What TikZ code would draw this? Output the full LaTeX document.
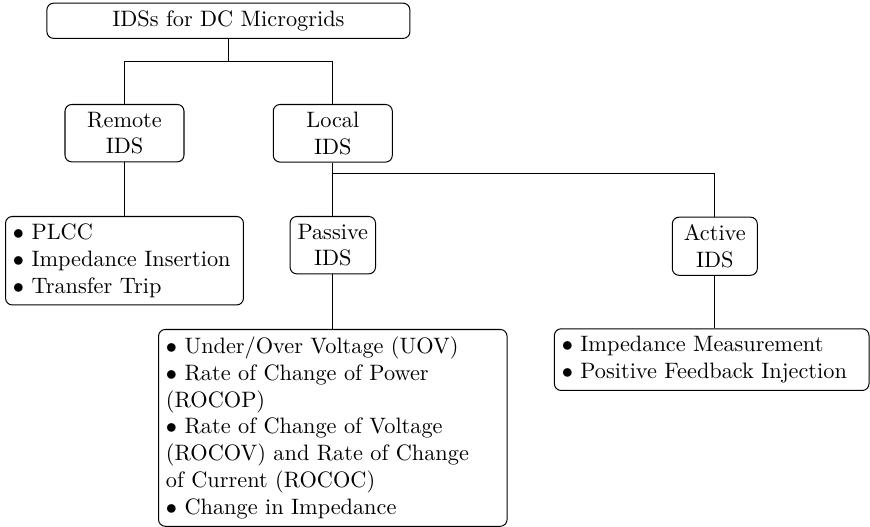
\documentclass[tikz,border=0pt]{standalone}
\newcommand\pxu{0.4484pt}
\begin{document}
\begin{tikzpicture}[x=0.4484pt,y=-0.4484pt,
  box/.style={draw, rounded corners=3pt, align=center, anchor=north, line width=0.45pt},
  listbox/.style={draw, rounded corners=3pt, align=left, anchor=north, line width=0.45pt},
  conn/.style={line width=0.45pt}]
\useasboundingbox (0,0) rectangle (870,527);
\node[box, minimum width=363*\pxu] (top) at (228.4,2.7) {IDSs for DC Microgrids};
\node[box, minimum width=119*\pxu] (remote) at (124.5,104) {Remote\\IDS};
\node[box, minimum width=119*\pxu] (local) at (332.8,104) {Local\\IDS};
\node[listbox, text width=100pt] (rlist) at (124.5,216) {$\bullet$ PLCC\\$\bullet$ Impedance Insertion\\$\bullet$ Transfer Trip};
\node[box, minimum width=85*\pxu] (passive) at (332.8,216) {Passive\\IDS};
\node[box, minimum width=85*\pxu] (active) at (714.8,216.7) {Active\\IDS};
\node[listbox, text width=149.6pt] (plist) at (332.8,329) {$\bullet$ Under/Over Voltage (UOV)\\$\bullet$ Rate of Change of Power\\(ROCOP)\\$\bullet$ Rate of Change of Voltage\\(ROCOV) and Rate of Change\\of Current (ROCOC)\\$\bullet$ Change in Impedance};
\node[listbox, text width=134.4pt] (alist) at (711.7,328.3) {$\bullet$ Impedance Measurement\\$\bullet$ Positive Feedback Injection};
\coordinate (j1) at (228.4,61.7);
\coordinate (j2) at (332.8,174);
\draw[conn] (top.south) -- (j1);
\draw[conn] (remote.north) |- (j1) -| (local.north);
\draw[conn] (remote.south) -- (rlist.north);
\draw[conn] (local.south) -- (passive.north);
\draw[conn] (j2) -| (active.north);
\draw[conn] (passive.south) -- (plist.north);
\draw[conn] (active.south) -- (active.south |- alist.north);
\end{tikzpicture}
\end{document}
